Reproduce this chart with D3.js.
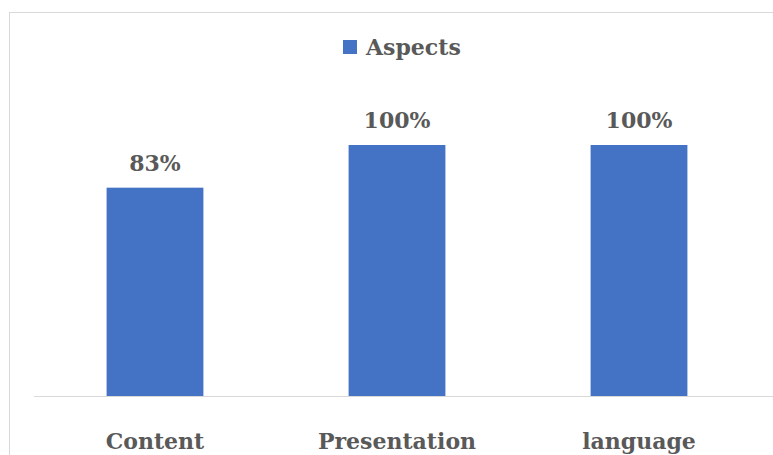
<!DOCTYPE html>
<html>
<head>
<meta charset="utf-8">
<script src="https://cdn.jsdelivr.net/npm/d3@7"></script>
<style>
  body { margin: 0; background: #fff; }
  text { font-family: "DejaVu Serif", serif; font-weight: bold; fill: #595959; }
</style>
</head>
<body>
<div id="chart"></div>
<script>
var categories = ["Content", "Presentation", "language"];
var values = [83, 100, 100];
var seriesName = "Aspects";

var W = 773, H = 455;
var margin = {left: 34, right: 13, top: 145, bottom: 59};
var baseY = H - margin.bottom;

var svg = d3.select("#chart")
    .append("svg")
    .attr("width", W)
    .attr("height", H);

// chart border
svg.append("rect")
    .attr("x", 9.5).attr("y", 12.5)
    .attr("width", 800).attr("height", 500)
    .attr("fill", "none")
    .attr("stroke", "#d9d9d9");

var x = d3.scaleBand()
    .domain(categories)
    .range([margin.left, W - margin.right])
    .paddingInner(0.6)
    .paddingOuter(0.3);

var y = d3.scaleLinear()
    .domain([0, 100])
    .range([baseY, margin.top]);

svg.selectAll("rect.bar")
    .data(values)
    .enter()
    .append("rect")
    .attr("class", "bar")
    .attr("x", function(d, i) { return x(categories[i]); })
    .attr("y", function(d) { return y(d); })
    .attr("width", x.bandwidth())
    .attr("height", function(d) { return baseY - y(d); })
    .attr("fill", "#4472c4");

svg.selectAll("text.lbl")
    .data(values)
    .enter()
    .append("text")
    .attr("class", "lbl")
    .attr("x", function(d, i) { return x(categories[i]) + x.bandwidth() / 2; })
    .attr("y", function(d) { return y(d) - 17; })
    .attr("text-anchor", "middle")
    .attr("font-size", 22)
    .text(function(d) { return d + "%"; });

// axis line
svg.append("line")
    .attr("x1", margin.left).attr("x2", W)
    .attr("y1", baseY + 0.5).attr("y2", baseY + 0.5)
    .attr("stroke", "#d9d9d9");

var xAxis = svg.append("g")
    .attr("transform", "translate(0," + baseY + ")")
    .call(d3.axisBottom(x).tickSize(0).tickPadding(37));
xAxis.select(".domain").remove();
xAxis.selectAll("text")
    .attr("font-size", 22)
    .style("font-family", "'DejaVu Serif', serif")
    .style("font-weight", "bold")
    .attr("fill", "#595959");

// legend
var lg = svg.append("g");
lg.append("rect")
    .attr("x", 343).attr("y", 40)
    .attr("width", 14).attr("height", 14)
    .attr("fill", "#4472c4");
lg.append("text")
    .attr("x", 366).attr("y", 55)
    .attr("font-size", 22)
    .text(seriesName);
</script>
</body>
</html>
